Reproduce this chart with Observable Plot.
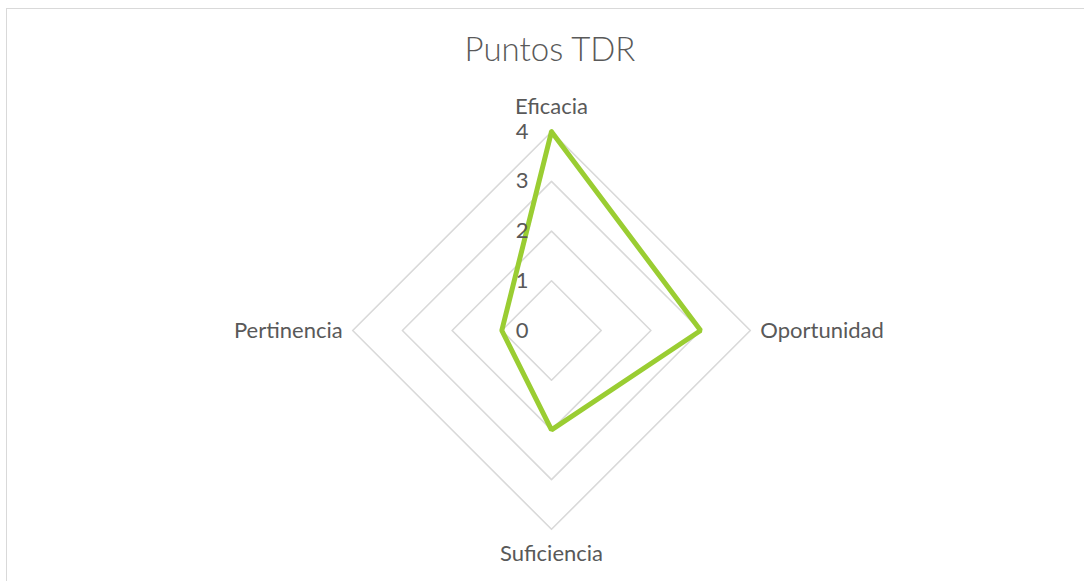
<!DOCTYPE html>
<html>
<head>
<meta charset="utf-8">
<script src="https://cdn.jsdelivr.net/npm/d3@7"></script>
<script src="https://cdn.jsdelivr.net/npm/@observablehq/plot@0.6"></script>
<style>
  html, body { margin: 0; padding: 0; background: #fff; overflow: hidden; }
  #frame { position: absolute; left: 6px; top: 8px; width: 1100px; height: 600px; border: 1px solid #d9d9d9; box-sizing: border-box; }
  #title { position: absolute; left: 0; width: 1100px; text-align: center; top: 28px; font-family: Lato, "Open Sans", sans-serif; font-weight: 300; font-size: 33px; color: #595959; }
  #chart { position: absolute; left: 0; top: 0; }
</style>
</head>
<body>
<div id="frame"></div>
<div id="title">Puntos TDR</div>
<div id="chart"></div>
<script>
const categories = ["Eficacia", "Oportunidad", "Suficiencia", "Pertinencia"];
const values = [4, 3, 2, 1];
const tickLevels = [0, 1, 2, 3, 4];
const tickLabels = ["0", "1", "2", "3", "4"];
const maxValue = 4;

const n = categories.length;
const angle = i => (i / n) * 2 * Math.PI; // 0 = up, clockwise
const px = (i, r) => r * Math.sin(angle(i));
const py = (i, r) => r * Math.cos(angle(i));

const grid = [];
tickLevels.filter(l => l > 0).forEach(l => {
  for (let i = 0; i <= n; i++) grid.push({level: l, x: px(i % n, l), y: py(i % n, l)});
});
const series = [];
for (let i = 0; i <= n; i++) series.push({cat: categories[i % n], x: px(i % n, values[i % n]), y: py(i % n, values[i % n])});

const catLabels = categories.map((c, i) => ({c, i, x: px(i, maxValue), y: py(i, maxValue)}));
const ticks = tickLevels.map((l, k) => ({label: tickLabels[k], x: 0, y: l}));

const W = 1084, H = 581;
const unit = 49.7, cx = 551, cy = 330;

const font = "Lato, 'Open Sans', sans-serif";
const anchors = ["middle", "start", "middle", "end"];
const dxs = [0, 10, 0, -10];
const dys = [-25, 0, 25, 0];

const plot = Plot.plot({
  width: W, height: H,
  margin: 0,
  x: {domain: [-cx / unit, (W - cx) / unit], range: [0, W], axis: null},
  y: {domain: [-(H - cy) / unit, cy / unit], range: [H, 0], axis: null},
  style: {background: "transparent", fontFamily: font},
  marks: [
    Plot.line(grid, {x: "x", y: "y", z: "level", stroke: "#d9d9d9", strokeWidth: 1.6}),
    Plot.line(series, {x: "x", y: "y", stroke: "#9acd32", strokeWidth: 5, strokeLinejoin: "miter"}),
    Plot.text(ticks, {x: "x", y: "y", text: "label", dx: -23, textAnchor: "end", fill: "#595959", fontSize: 22}),
    ...catLabels.map(d => Plot.text([d], {x: "x", y: "y", text: "c", textAnchor: anchors[d.i], dx: dxs[d.i], dy: dys[d.i], fill: "#595959", fontSize: 22}))
  ]
});
document.getElementById("chart").appendChild(plot);
</script>
</body>
</html>
